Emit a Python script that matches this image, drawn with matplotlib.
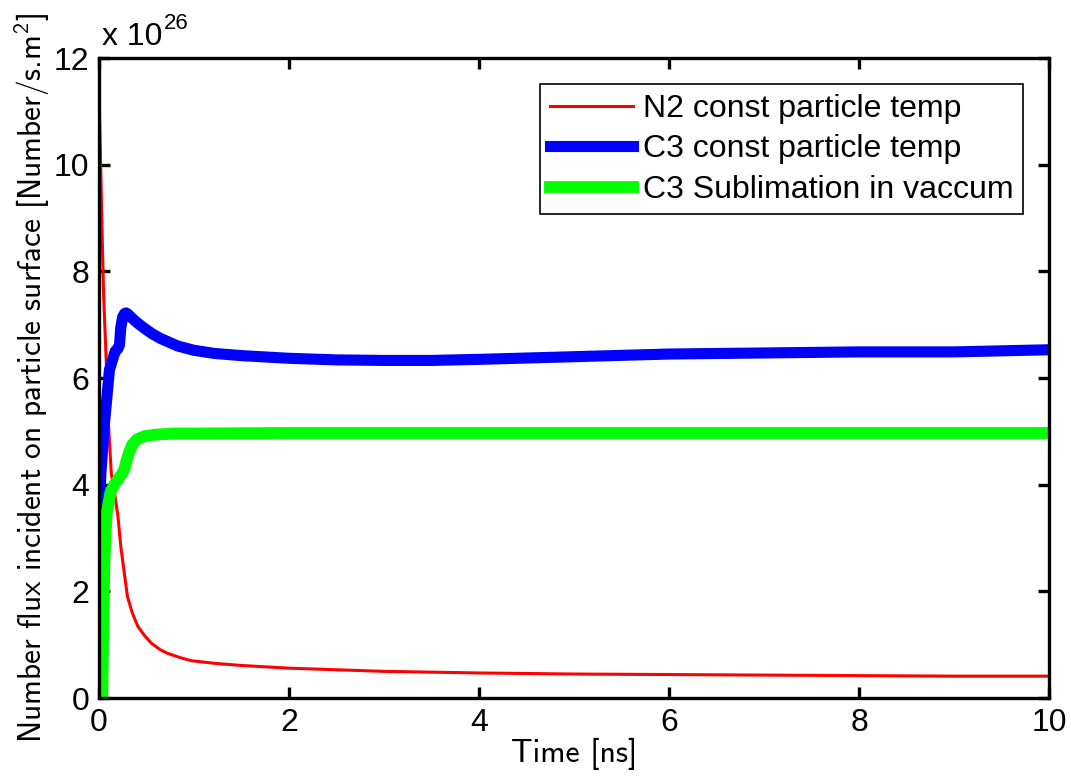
import matplotlib
matplotlib.use("Agg")
import matplotlib.pyplot as plt

# values in units of 1e26 Number/s.m^2, time in ns
t_n2 = [0, 0.02, 0.04, 0.05, 0.075, 0.1, 0.13, 0.16, 0.2, 0.23, 0.27, 0.3, 0.35,
        0.41, 0.48, 0.55, 0.65, 0.72, 0.85, 0.97, 1.22, 1.5, 2, 3, 4, 5, 6, 7, 8, 9, 10]
flux_n2 = [11.4, 9.8, 8.2, 7.5, 6.4, 5.15, 4.2, 3.9, 3.4, 2.84, 2.3, 1.9, 1.6,
           1.34, 1.17, 1.03, 0.9, 0.84, 0.76, 0.70, 0.65, 0.61, 0.56, 0.5, 0.47,
           0.45, 0.44, 0.43, 0.42, 0.41, 0.41]

t_c3 = [0, 0.02, 0.058, 0.11, 0.17, 0.2, 0.216, 0.23, 0.25, 0.27, 0.286, 0.31,
        0.35, 0.4, 0.48, 0.56, 0.65, 0.74, 0.83, 1.0, 1.22, 1.5, 2, 2.5, 3, 3.5,
        4, 5, 6, 7, 8, 9, 10]
flux_c3 = [3.3, 4.2, 5.15, 6.15, 6.5, 6.55, 6.62, 6.95, 7.15, 7.21, 7.22, 7.19,
           7.12, 7.04, 6.93, 6.83, 6.74, 6.67, 6.6, 6.52, 6.46, 6.42, 6.37, 6.34,
           6.33, 6.33, 6.35, 6.4, 6.45, 6.47, 6.49, 6.49, 6.53]

t_sub = [0.035, 0.045, 0.06, 0.08, 0.12, 0.16, 0.2, 0.24, 0.27, 0.29, 0.32, 0.35,
         0.4, 0.48, 0.6, 0.8, 1, 2, 4, 6, 8, 10]
flux_sub = [0, 1.5, 2.7, 3.45, 3.85, 4.0, 4.1, 4.2, 4.3, 4.45, 4.62, 4.75,
            4.85, 4.91, 4.94, 4.96, 4.96, 4.97, 4.97, 4.97, 4.97, 4.97]

labels = ["N2 const particle temp", "C3 const particle temp", "C3 Sublimation in vaccum"]
x_ticks = [0, 2, 4, 6, 8, 10]
y_ticks = [0, 2, 4, 6, 8, 10, 12]

plt.rcParams["font.family"] = ["Liberation Sans", "DejaVu Sans"]
plt.rcParams["mathtext.fontset"] = "custom"
plt.rcParams["mathtext.rm"] = "cmss10"
plt.rcParams["mathtext.it"] = "cmss10"

fig = plt.figure(figsize=(10.71, 7.8), dpi=100)
ax = fig.add_axes([0.0924, 0.1051, 0.8871, 0.8205])

ax.plot(t_n2, flux_n2, color="#ff0000", lw=2.2, label=labels[0])
ax.plot(t_c3, flux_c3, color="#0000ff", lw=8, label=labels[1])
ax.plot(t_sub, flux_sub, color="#00ff00", lw=8.5, label=labels[2])

ax.set_xlim(0, 10)
ax.set_ylim(0, 12)
ax.set_xticks(x_ticks)
ax.set_yticks(y_ticks)
ax.tick_params(direction="in", length=8, width=2.4, labelsize=23, top=True, right=True, pad=7)
for s in ax.spines.values():
    s.set_linewidth(2.4)

ax.set_xlabel("Time [ns]", fontsize=23, fontfamily="cmss10", labelpad=0)
ax.set_ylabel("Number flux incident on particle surface [Number/s.m$^2$]",
              fontsize=22.5, fontfamily="cmss10", labelpad=1)

# exponent label, drawn as two pieces like the original
base = ax.text(0.003, 1.020, "x 10", transform=ax.transAxes, fontsize=23,
               ha="left", va="baseline")
ax.annotate("26", xy=(1.0, 0.62), xycoords=base, xytext=(1.5, 0),
            textcoords="offset points", fontsize=16, ha="left", va="bottom")

leg = ax.legend(loc="upper right", fontsize=23, frameon=True, fancybox=False,
                framealpha=1, edgecolor="black", handlelength=2.6,
                borderaxespad=0.82, labelspacing=0.33, handletextpad=0.3,
                borderpad=0.3)
leg.get_frame().set_linewidth(1.2)

fig.savefig("out.png", dpi=100)
